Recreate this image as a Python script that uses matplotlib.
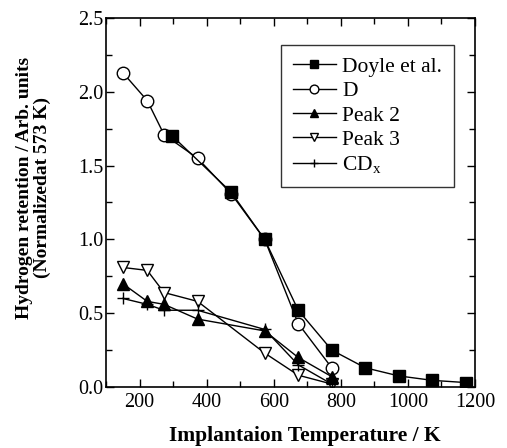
import matplotlib.pyplot as plt
from matplotlib.ticker import MultipleLocator

# data
doyle_t = [298, 473, 573, 673, 773, 873, 973, 1073, 1173]
doyle_v = [1.70, 1.32, 1.00, 0.52, 0.25, 0.13, 0.075, 0.045, 0.03]

d_t = [150, 223, 273, 373, 473, 573, 673, 773]
d_v = [2.13, 1.94, 1.71, 1.55, 1.31, 1.00, 0.43, 0.13]

peak2_t = [150, 223, 273, 373, 573, 673, 773]
peak2_v = [0.70, 0.58, 0.56, 0.46, 0.38, 0.20, 0.07]

peak3_t = [150, 223, 273, 373, 573, 673, 773]
peak3_v = [0.81, 0.79, 0.64, 0.58, 0.23, 0.08, 0.02]

cdx_t = [150, 223, 273, 373, 573, 673, 773]
cdx_v = [0.60, 0.56, 0.52, 0.52, 0.39, 0.15, 0.02]

plt.rcParams['font.family'] = ['Liberation Serif', 'DejaVu Serif']
plt.rcParams['mathtext.fontset'] = 'stix'

fig = plt.figure(figsize=(5.07, 4.48), dpi=100)
ax = fig.add_axes([106 / 507, 1 - 387 / 448, 369 / 507, 369 / 448])

kw = dict(color='black', lw=1.0, ms=9, mew=1.0)
ax.plot(doyle_t, doyle_v, marker='s', mfc='black', label='Doyle et al.', zorder=3, **kw)
ax.plot(d_t, d_v, marker='o', mfc='white', label='D', zorder=2, **kw)
ax.plot(peak2_t, peak2_v, marker='^', mfc='black', label='Peak 2', zorder=3, **kw)
ax.plot(peak3_t, peak3_v, marker='v', mfc='white', label='Peak 3', zorder=2, **kw)
ax.plot(cdx_t, cdx_v, marker='+', mfc='none', label='CD$_\\mathregular{x}$', zorder=4, **kw)

ax.set_xlim(100, 1200)
ax.set_ylim(0, 2.5)
ax.xaxis.set_major_locator(MultipleLocator(200))
ax.xaxis.set_minor_locator(MultipleLocator(100))
ax.yaxis.set_major_locator(MultipleLocator(0.5))
ax.yaxis.set_minor_locator(MultipleLocator(0.25))
ax.yaxis.set_major_formatter(plt.FormatStrFormatter('%.1f'))
ax.tick_params(which='both', direction='in', top=True, right=True, labelsize=14.5)
ax.tick_params(which='major', length=6, width=1, pad=4)
ax.tick_params(which='minor', length=4, width=1)
ax.tick_params(axis='y', pad=2)
for s in ax.spines.values():
    s.set_linewidth(1.2)

ax.set_xlabel('Implantaion Temperature / K', fontsize=15.5, fontweight='bold')
ax.xaxis.set_label_coords(0.54, -0.107)
ax.set_ylabel('Hydrogen retention / Arb. units\n(Normalizedat 573 K)', fontsize=14,
              fontweight='bold', linespacing=1.05)
ax.yaxis.set_label_coords(-0.15, 0.54)

leg = ax.legend(loc='upper right', bbox_to_anchor=(0.943, 0.927), fontsize=15.5,
                frameon=True, fancybox=False, edgecolor='black', handlelength=2.0,
                handletextpad=0.3, labelspacing=0.2, borderpad=0.55, borderaxespad=0,
                markerscale=0.7)
leg.get_frame().set_linewidth(1.0)

fig.savefig('out.png', dpi=100)
